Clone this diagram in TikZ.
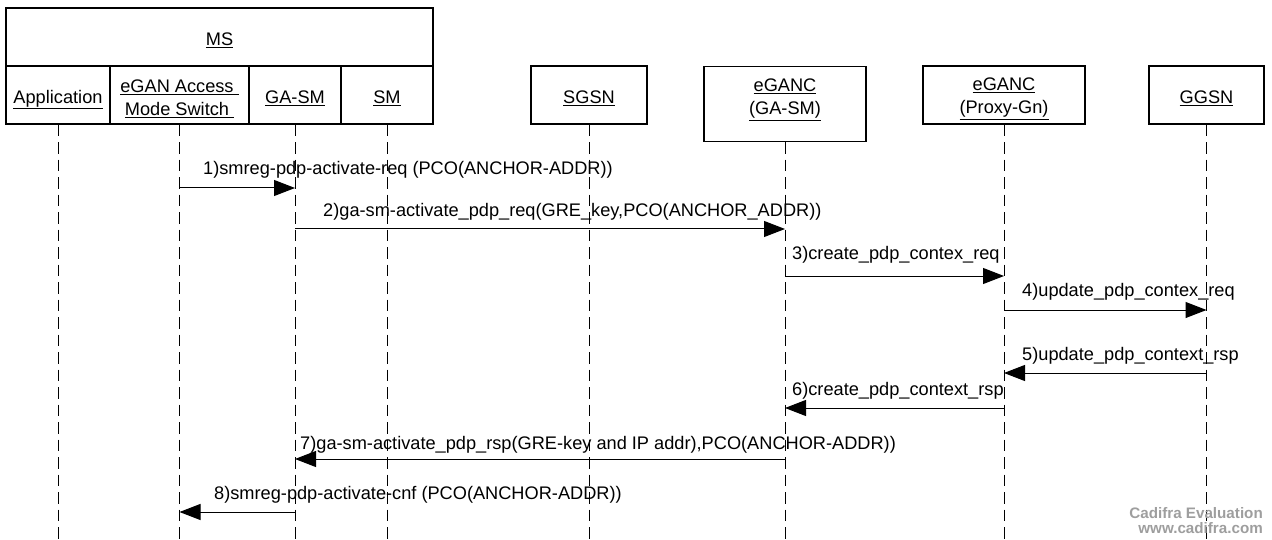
\documentclass[tikz,border=0pt]{standalone}
\usepackage{fontspec}
\setmainfont{Liberation Sans}
\usetikzlibrary{arrows.meta}
\newcommand{\topstrut}{\rule{0pt}{20pt}}
\begin{document}
\begin{tikzpicture}[x=1pt,y=-1pt,
  every node/.style={font=\fontsize{18.2}{22}\selectfont},
  box/.style={draw=black, line width=1.2pt, inner sep=0pt, minimum height=58pt, align=center},
  onebox/.style={box, text height=20pt, text depth=3pt},
  lbl/.style={inner sep=0pt, anchor=base west},
  lifeline/.style={draw=black, line width=1pt, dash pattern=on 11.5pt off 6pt},
  msg/.style={draw=black, line width=1pt, -{Triangle[length=21pt,width=16pt]}},
  wm/.style={inner sep=0pt, anchor=base east, text=black!38, font=\fontsize{15.2}{17}\selectfont\bfseries}]
\useasboundingbox (0,0) rectangle (1272,540);
% header boxes
\node[onebox, minimum width=427pt] (ms) at (219.5,37) {\underline{MS}};
\node[onebox, minimum width=104pt] (app) at (58,95) {\underline{Application}};
\node[box, minimum width=139pt] (esw) at (179.5,95) {\topstrut\underline{eGAN Access\ }\\[1pt]\underline{Mode Switch\ }};
\node[onebox, minimum width=92pt] (gasm) at (295,95) {\underline{GA-SM}};
\node[onebox, minimum width=92pt] (sm) at (387,95) {\underline{SM}};
\node[onebox, minimum width=116pt] (sgsn) at (589,95) {\underline{SGSN}};
\node[box, minimum width=162pt, minimum height=75pt, anchor=north] (eganc) at (785,66) {};
\node[inner sep=0pt, align=center] (egancT) at (785,96) {\topstrut\underline{eGANC}\\[1pt]\underline{(GA-SM)}};
\node[box, minimum width=162pt] (proxy) at (1004,95) {\topstrut\underline{eGANC}\\[1pt]\underline{(Proxy-Gn)}};
\node[onebox, minimum width=115pt] (ggsn) at (1206.5,95) {\underline{GGSN}};
% lifelines
\coordinate (bot) at (0,540);
\foreach \n in {app,esw,gasm,sm,sgsn,eganc,proxy,ggsn}
  \draw[lifeline] (\n.south) -- (\n.south |- bot);
% message rows
\coordinate (y1) at (0,188);
\coordinate (y2) at (0,229);
\coordinate (y3) at (0,276);
\coordinate (y4) at (0,310);
\coordinate (y5) at (0,373);
\coordinate (y6) at (0,408);
\coordinate (y7) at (0,459);
\coordinate (y8) at (0,512);
\draw[msg] (esw.south |- y1) -- (gasm.south |- y1);
\draw[msg] (gasm.south |- y2) -- (eganc.south |- y2);
\draw[msg] (eganc.south |- y3) -- (proxy.south |- y3);
\draw[msg] (proxy.south |- y4) -- (ggsn.south |- y4);
\draw[msg] (ggsn.south |- y5) -- (proxy.south |- y5);
\draw[msg] (proxy.south |- y6) -- (eganc.south |- y6);
\draw[msg] (eganc.south |- y7) -- (gasm.south |- y7);
\draw[msg] (gasm.south |- y8) -- (esw.south |- y8);
% labels
\node[lbl] (l1) at (203,175) {1)smreg-pdp-activate-req (PCO(ANCHOR-ADDR))};
\node[lbl] (l2) at (323,217) {2)ga-sm-activate\_pdp\_req(GRE\_key,PCO(ANCHOR\_ADDR))};
\node[lbl] (l3) at (792,260) {3)create\_pdp\_contex\_req};
\node[lbl] (l4) at (1022,296) {4)update\_pdp\_contex\_req};
\node[lbl] (l5) at (1022,360) {5)update\_pdp\_context\_rsp};
\node[lbl] (l6) at (792,395) {6)create\_pdp\_context\_rsp};
\node[lbl] (l7) at (300,449) {7)ga-sm-activate\_pdp\_rsp(GRE-key and IP addr),PCO(ANCHOR-ADDR))};
\node[lbl] (l8) at (214,499) {8)smreg-pdp-activate-cnf (PCO(ANCHOR-ADDR))};
% watermark
\node[wm] (wm1) at (1263,518) {Cadifra Evaluation};
\node[wm] (wm2) at (1263,533) {www.cadifra.com};
\end{tikzpicture}
\end{document}
